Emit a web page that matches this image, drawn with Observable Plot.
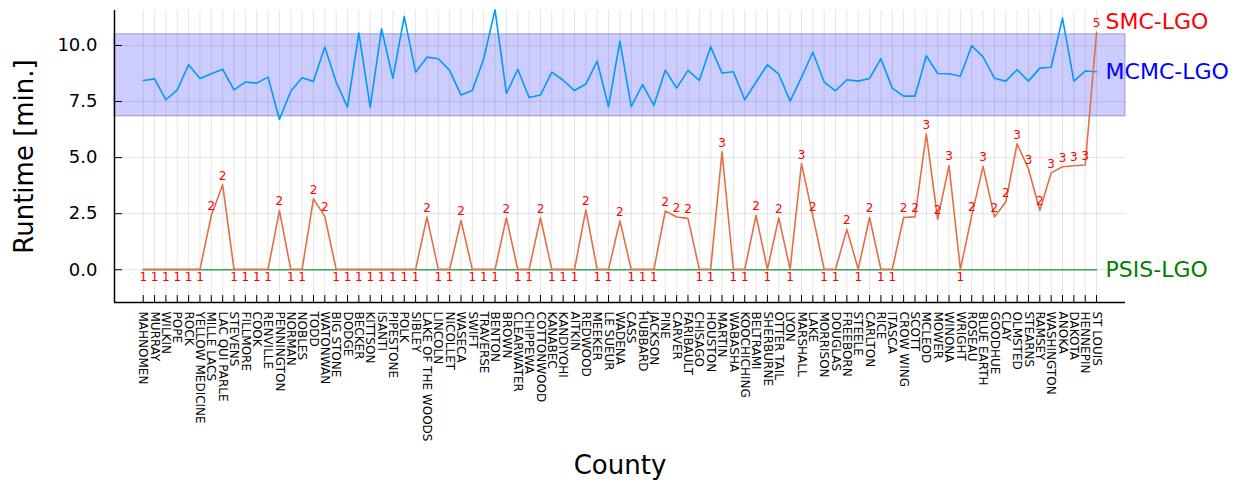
<!DOCTYPE html>
<html>
<head>
<meta charset="utf-8">
<script src="https://cdn.jsdelivr.net/npm/d3@7"></script>
<script src="https://cdn.jsdelivr.net/npm/@observablehq/plot@0.6"></script>
<style>
  html, body { margin: 0; padding: 0; background: #fff; }
  svg { display: block; }
</style>
</head>
<body>
<div id="chart"></div>
<script>
const counties = [
  "MAHNOMEN","MURRAY","WILKIN","POPE","ROCK","YELLOW MEDICINE","MILLE LACS","LAC QUI PARLE",
  "STEVENS","FILLMORE","COOK","RENVILLE","PENNINGTON","NORMAN","NOBLES","TODD","WATONWAN",
  "BIG STONE","DODGE","BECKER","KITTSON","ISANTI","PIPESTONE","POLK","SIBLEY","LAKE OF THE WOODS",
  "LINCOLN","NICOLLET","WASECA","SWIFT","TRAVERSE","BENTON","BROWN","CLEARWATER","CHIPPEWA",
  "COTTONWOOD","KANABEC","KANDIYOHI","AITKIN","REDWOOD","MEEKER","LE SUEUR","WADENA","CASS",
  "HUBBARD","JACKSON","PINE","CARVER","FARIBAULT","CHISAGO","HOUSTON","MARTIN","WABASHA",
  "KOOCHICHING","BELTRAMI","SHERBURNE","OTTER TAIL","LYON","MARSHALL","LAKE","MORRISON",
  "DOUGLAS","FREEBORN","STEELE","CARLTON","RICE","ITASCA","CROW WING","SCOTT","MCLEOD",
  "MOWER","WINONA","WRIGHT","ROSEAU","BLUE EARTH","GOODHUE","CLAY","OLMSTED","STEARNS",
  "RAMSEY","WASHINGTON","ANOKA","DAKOTA","HENNEPIN","ST LOUIS"
];

const mcmcLGO = [
  8.44, 8.51, 7.58, 8.02, 9.14, 8.53, 8.74, 8.94, 8.02, 8.37,
  8.32, 8.59, 6.70, 7.96, 8.56, 8.40, 9.93, 8.37, 7.25, 10.56,
  7.25, 10.74, 8.54, 11.29, 8.81, 9.48, 9.41, 8.89, 7.79, 7.99,
  9.41, 11.59, 7.86, 8.94, 7.68, 7.79, 8.81, 8.45, 7.99, 8.28,
  9.30, 7.27, 10.19, 7.27, 8.26, 7.33, 8.90, 8.10, 8.89, 8.44,
  9.94, 8.77, 8.83, 7.58, 8.37, 9.14, 8.72, 7.52, 8.58, 9.70,
  8.37, 7.98, 8.47, 8.41, 8.53, 9.41, 8.10, 7.74, 7.74, 9.54,
  8.75, 8.74, 8.63, 9.99, 9.49, 8.54, 8.41, 8.92, 8.41, 8.99,
  9.03, 11.22, 8.41, 8.86, 8.83
];

const smcLGO = [
  0.02, 0.02, 0.02, 0.02, 0.02, 0.02, 2.42, 3.79, 0.02, 0.02,
  0.02, 0.02, 2.64, 0.02, 0.02, 3.16, 2.38, 0.02, 0.02, 0.02,
  0.02, 0.02, 0.02, 0.02, 0.02, 2.35, 0.02, 0.02, 2.20, 0.02,
  0.02, 0.02, 2.32, 0.02, 0.02, 2.32, 0.02, 0.02, 0.02, 2.67,
  0.02, 0.02, 2.18, 0.02, 0.02, 0.02, 2.62, 2.35, 2.29, 0.02,
  0.02, 5.26, 0.02, 0.02, 2.42, 0.02, 2.32, 0.02, 4.73, 2.40,
  0.02, 0.02, 1.80, 0.02, 2.33, 0.02, 0.02, 2.33, 2.36, 6.06,
  2.25, 4.65, 0.02, 2.40, 4.61, 2.35, 3.02, 5.62, 4.50, 2.64,
  4.32, 4.59, 4.64, 4.67, 10.59
];

const smcStages = [
  1, 1, 1, 1, 1, 1, 2, 2, 1, 1,
  1, 1, 2, 1, 1, 2, 2, 1, 1, 1,
  1, 1, 1, 1, 1, 2, 1, 1, 2, 1,
  1, 1, 2, 1, 1, 2, 1, 1, 1, 2,
  1, 1, 2, 1, 1, 1, 2, 2, 2, 1,
  1, 3, 1, 1, 2, 1, 2, 1, 3, 2,
  1, 1, 2, 1, 2, 1, 1, 2, 2, 3,
  2, 3, 1, 2, 3, 2, 2, 3, 3, 2,
  3, 3, 3, 3, 5
];

const psisLGO = [
  0, 0, 0, 0, 0, 0, 0, 0, 0, 0,
  0, 0, 0, 0, 0, 0, 0, 0, 0, 0,
  0, 0, 0, 0, 0, 0, 0, 0, 0, 0,
  0, 0, 0, 0, 0, 0, 0, 0, 0, 0,
  0, 0, 0, 0, 0, 0, 0, 0, 0, 0,
  0, 0, 0, 0, 0, 0, 0, 0, 0, 0,
  0, 0, 0, 0, 0, 0, 0, 0, 0, 0,
  0, 0, 0, 0, 0, 0, 0, 0, 0, 0,
  0, 0, 0, 0, 0
];

const mcmcBand = [6.84, 10.50];
const yTicks = [0, 2.5, 5, 7.5, 10];
const seriesNames = ["SMC-LGO", "MCMC-LGO", "PSIS-LGO"];
const seriesLabelY = [11.07, 8.83, 0];
const seriesColors = ["#ff0000", "#0000ff", "#008000"];

const idx = counties.map((_, i) => i);
const rows = counties.map((c, i) => ({
  i, county: c, mcmc: mcmcLGO[i], smc: smcLGO[i], stage: smcStages[i], psis: psisLGO[i]
}));
const series = seriesNames.map((n, k) => ({name: n, y: seriesLabelY[k], color: seriesColors[k]}));
const lastIdx = idx[idx.length - 1];

const xDomain = [-2.53, 86.55];
const yDomain = [-1.46, 11.56];

const chart = Plot.plot({
  width: 1235,
  height: 483,
  marginLeft: 114,
  marginRight: 110,
  marginTop: 10,
  marginBottom: 181,
  style: {fontFamily: "'DejaVu Sans', sans-serif", fontSize: "11px", background: "white", color: "black"},
  x: {type: "linear", domain: xDomain},
  y: {type: "linear", domain: yDomain},
  color: {type: "identity"},
  marks: [
    Plot.gridX(idx, {stroke: "black", strokeOpacity: 0.1, strokeWidth: 1}),
    Plot.gridY(yTicks, {stroke: "black", strokeOpacity: 0.1, strokeWidth: 1}),
    Plot.rectY([{lo: mcmcBand[0], hi: mcmcBand[1]}], {
      y1: "lo", y2: "hi", fill: "#0000ff", fillOpacity: 0.2, stroke: "#000060", strokeOpacity: 0.3, strokeWidth: 1
    }),
    Plot.lineY(rows, {x: "i", y: "psis", stroke: "#3da44d", strokeWidth: 1.6}),
    Plot.lineY(rows, {x: "i", y: "mcmc", stroke: "#009af9", strokeWidth: 1.6}),
    Plot.lineY(rows, {x: "i", y: "smc", stroke: "#e26f46", strokeWidth: 1.6}),
    Plot.text(rows.filter(d => d.stage === 1), {
      x: "i", y: "smc", text: "stage", fill: "#ff0000", fontSize: 12, dy: 8, lineAnchor: "middle"
    }),
    Plot.text(rows.filter(d => d.stage > 1), {
      x: "i", y: "smc", text: "stage", fill: "#ff0000", fontSize: 12, dy: -9, lineAnchor: "middle"
    }),
    Plot.text(series, {
      x: () => lastIdx, y: "y", text: "name", fill: "color", fontSize: 22,
      textAnchor: "start", lineAnchor: "middle", dx: 9
    }),
    Plot.ruleX([xDomain[0]], {stroke: "black", strokeWidth: 1.5}),
    Plot.ruleY([yDomain[0]], {stroke: "black", strokeWidth: 1.5}),
    Plot.axisX(idx, {
      anchor: "bottom", tickFormat: i => counties[i], tickRotate: 90,
      tickSize: -7, tickPadding: 16, fontSize: 12, label: null, stroke: "black"
    }),
    Plot.axisX([], {
      anchor: "bottom", label: "County", labelAnchor: "center", labelArrow: "none", labelOffset: 171,
      fontSize: 26, tickSize: 0
    }),
    Plot.axisY(yTicks, {
      anchor: "left", tickFormat: d3.format(".1f"), tickSize: -8, tickPadding: 25,
      fontSize: 18, label: null, stroke: "black"
    }),
    Plot.axisY([], {
      anchor: "left", label: "Runtime [min.]", labelAnchor: "center", labelArrow: "none", labelOffset: 100,
      fontSize: 26, tickSize: 0
    })
  ]
});

document.getElementById("chart").appendChild(chart);
</script>
</body>
</html>
